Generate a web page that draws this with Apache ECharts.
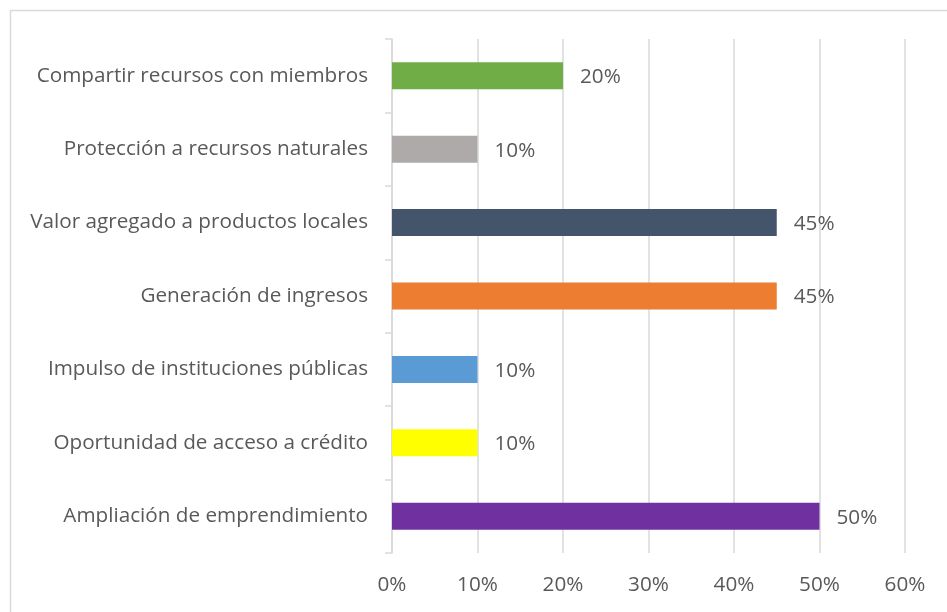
<!DOCTYPE html>
<html><head><meta charset="utf-8">
<script src="https://cdn.jsdelivr.net/npm/echarts@6/dist/echarts.min.js"></script>
<style>html,body{margin:0;padding:0;background:#fff}#c{width:947px;height:612px}</style>
</head><body><div id="c"></div>
<script>
const categories = ['Ampliación de emprendimiento','Oportunidad de acceso a crédito','Impulso de instituciones públicas','Generación de ingresos','Valor agregado a productos locales','Protección a recursos naturales','Compartir recursos con miembros'];
const values = [50, 10, 10, 45, 45, 10, 20];
const colors = ['#7030A0','#FFFF00','#5B9BD5','#ED7D31','#44546A','#AEAAAA','#70AD47'];
const xTicks = [0, 10, 20, 30, 40, 50, 60];

const chart = echarts.init(document.getElementById('c'));
const font = '"Open Sans", sans-serif';
chart.setOption({
  animation: false,
  graphic: [{type:'rect', shape:{x:10.5,y:10.5,width:960,height:620}, style:{fill:'none', stroke:'#D9D9D9', lineWidth:1.5}}],
  grid: {left: 392, right: 42, top: 39, bottom: 59},
  xAxis: {
    type: 'value', min: xTicks[0], max: xTicks[xTicks.length-1], interval: 10,
    axisLine: {show:false}, axisTick: {show:false},
    splitLine: {lineStyle: {color:'#D9D9D9', width:1.5}},
    axisLabel: {formatter: v => v + '%', color:'#595959', fontSize:20.7, fontFamily:font, margin:22}
  },
  yAxis: {
    type: 'category', data: categories,
    axisLine: {lineStyle:{color:'#D9D9D9', width:1.5}},
    axisTick: {show:true, length:7, lineStyle:{color:'#D9D9D9', width:1.5}},
    axisLabel: {color:'#595959', fontSize:20.7, fontFamily:font, margin:24, padding:[3,0,0,0]}
  },
  series: [{
    type: 'bar', barWidth: 27,
    data: values.map((v,i) => ({value:v, itemStyle:{color:colors[i]}})),
    label: {show:true, position:'right', distance:17, offset:[0,1.5], formatter: p => p.value + '%', color:'#595959', fontSize:20.7, fontFamily:font}
  }]
});
</script></body></html>
